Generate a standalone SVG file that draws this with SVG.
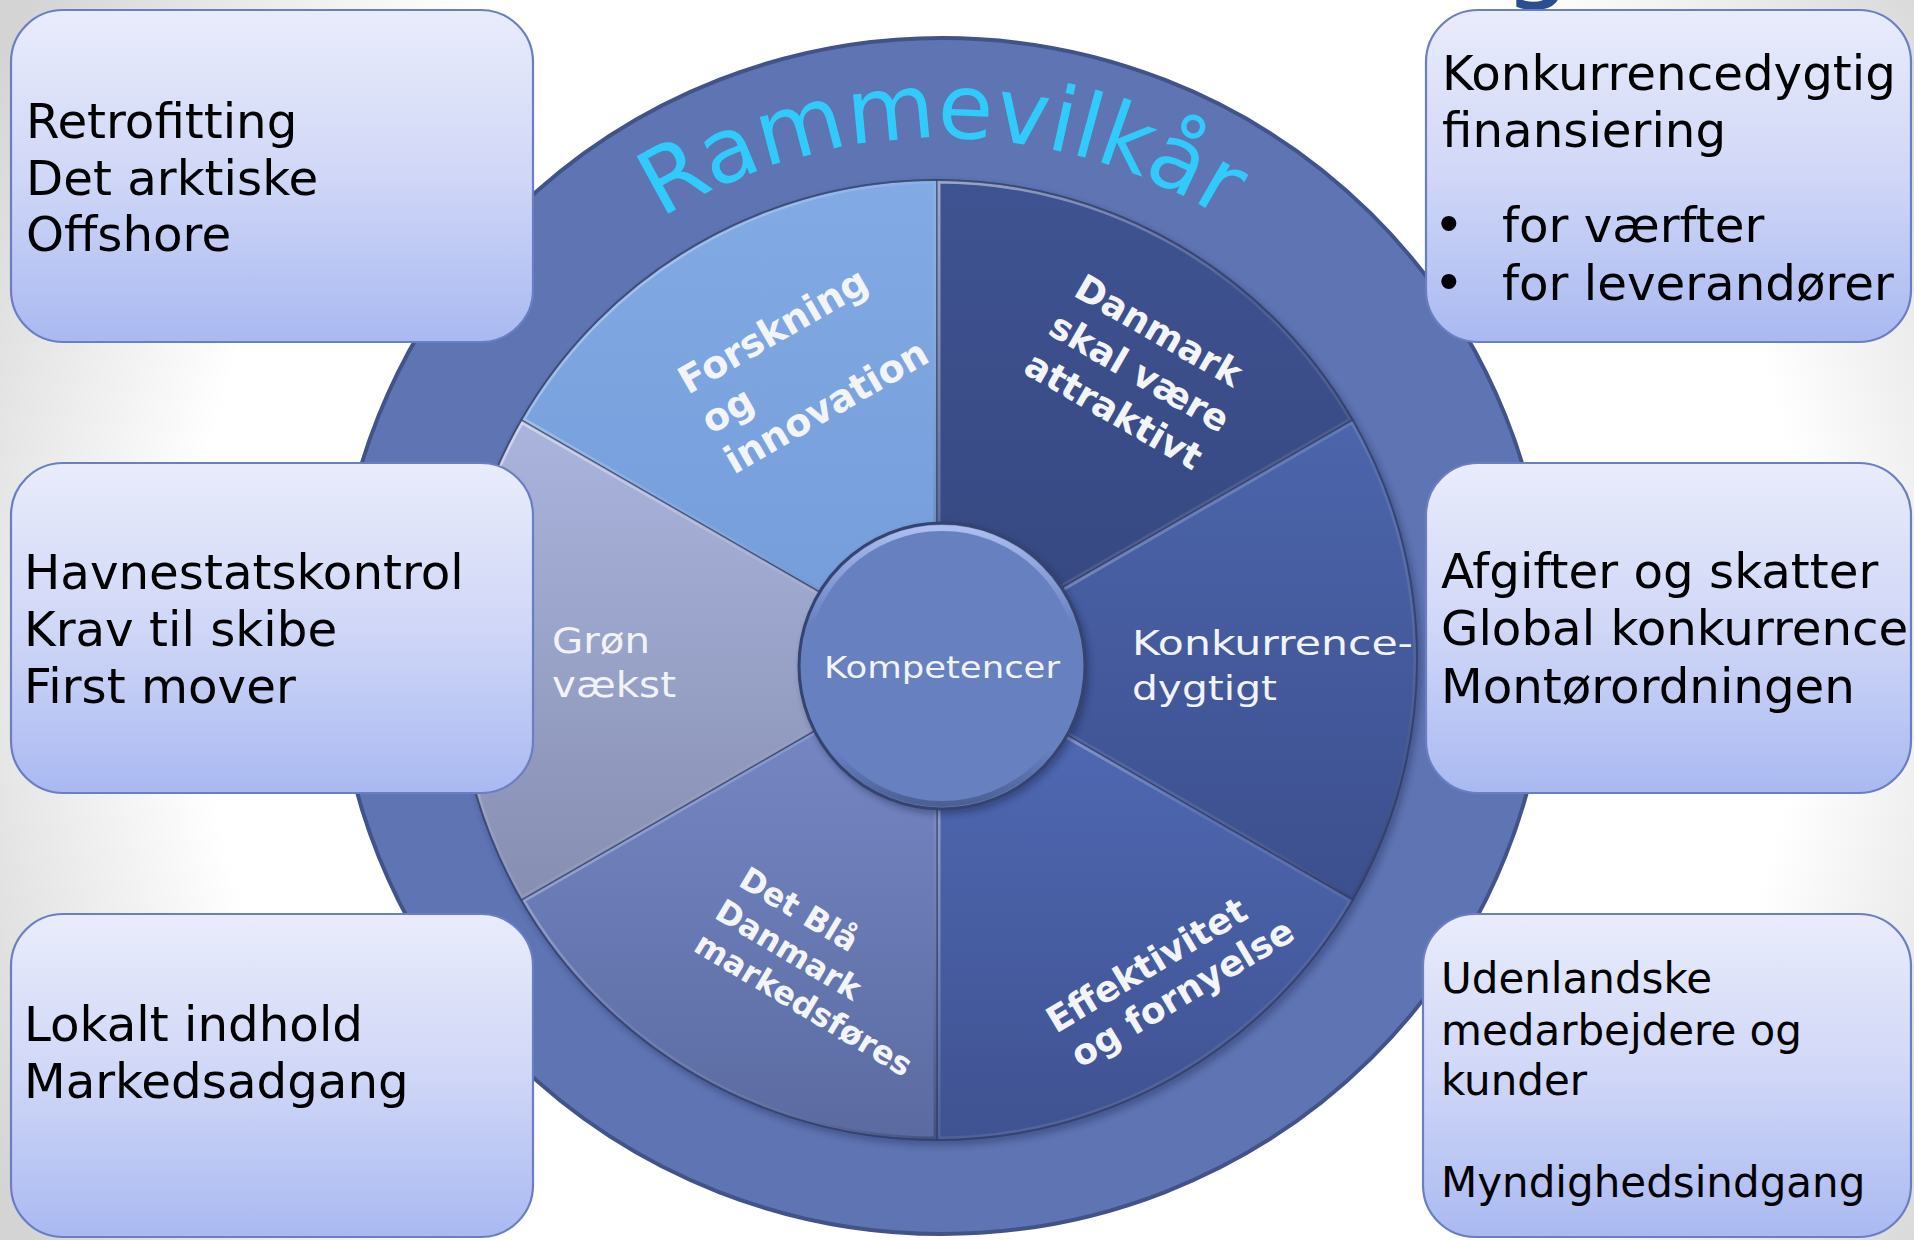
<svg xmlns="http://www.w3.org/2000/svg" xmlns:xlink="http://www.w3.org/1999/xlink" width="1914" height="1240" viewBox="0 0 1914 1240">
  <defs>
    <style>
      .box { fill: url(#boxGrad); stroke: #6a7fc3; stroke-width: 2.2; }
      .btxt { font-family: "DejaVu Sans", Verdana, sans-serif; font-size: 48.3px; fill: #000; }
      .btxt2 { font-family: "DejaVu Sans", Verdana, sans-serif; font-size: 42px; fill: #000; }
      .bul { font-family: "Liberation Sans", Arial, sans-serif; font-size: 56px; }
      .wlab { font-family: "DejaVu Sans", Verdana, sans-serif; fill: #f2f3f7; }
      .blab { font-family: "DejaVu Sans", Verdana, sans-serif; font-weight: bold; fill: #f3f4f8; }
      .edge { fill: none; stroke: #27335f; stroke-opacity: 0.55; stroke-width: 1.5; }
      .hi { fill: none; stroke: url(#bevel); stroke-width: 7; }
    </style>
    <radialGradient id="bg" gradientUnits="userSpaceOnUse" cx="1000" cy="620" r="1150">
      <stop offset="0" stop-color="#ffffff"/>
      <stop offset="0.7" stop-color="#ffffff"/>
      <stop offset="1" stop-color="#d4d4d4"/>
    </radialGradient>
    <linearGradient id="boxGrad" x1="0" y1="0" x2="0" y2="1">
      <stop offset="0" stop-color="#e9ecfb"/>
      <stop offset="0.5" stop-color="#d0d7f7"/>
      <stop offset="1" stop-color="#a9b9f1"/>
    </linearGradient>
    <linearGradient id="bevel" x1="0" y1="0" x2="1" y2="1">
      <stop offset="0" stop-color="#ffffff" stop-opacity="0.5"/>
      <stop offset="0.5" stop-color="#ffffff" stop-opacity="0.08"/>
      <stop offset="1" stop-color="#141c40" stop-opacity="0.35"/>
    </linearGradient>
    <linearGradient id="gF" gradientUnits="userSpaceOnUse" x1="0" y1="180" x2="0" y2="660">
      <stop offset="0" stop-color="#82aae4"/><stop offset="1" stop-color="#739cd9"/>
    </linearGradient>
    <linearGradient id="gD" gradientUnits="userSpaceOnUse" x1="0" y1="180" x2="0" y2="660">
      <stop offset="0" stop-color="#3f5392"/><stop offset="1" stop-color="#36477f"/>
    </linearGradient>
    <linearGradient id="gK" gradientUnits="userSpaceOnUse" x1="0" y1="420" x2="0" y2="900">
      <stop offset="0" stop-color="#4c65ab"/><stop offset="1" stop-color="#3c4f8e"/>
    </linearGradient>
    <linearGradient id="gE" gradientUnits="userSpaceOnUse" x1="0" y1="660" x2="0" y2="1140">
      <stop offset="0" stop-color="#526cb8"/><stop offset="1" stop-color="#3f5291"/>
    </linearGradient>
    <linearGradient id="gB" gradientUnits="userSpaceOnUse" x1="0" y1="660" x2="0" y2="1140">
      <stop offset="0" stop-color="#798ac9"/><stop offset="1" stop-color="#5b6ba1"/>
    </linearGradient>
    <linearGradient id="gG" gradientUnits="userSpaceOnUse" x1="0" y1="420" x2="0" y2="900">
      <stop offset="0" stop-color="#abb4dd"/><stop offset="1" stop-color="#868fb1"/>
    </linearGradient>
    <linearGradient id="chi" x1="0" y1="0" x2="0" y2="1">
      <stop offset="0" stop-color="#c4d2ff" stop-opacity="0.75"/>
      <stop offset="0.35" stop-color="#c4d2ff" stop-opacity="0"/>
      <stop offset="0.8" stop-color="#1a2348" stop-opacity="0"/>
      <stop offset="1" stop-color="#1a2348" stop-opacity="0.35"/>
    </linearGradient>
    <filter id="blur" x="-10%" y="-10%" width="120%" height="120%">
      <feGaussianBlur stdDeviation="3"/>
    </filter>
    <path id="sF" d="M937,660 L521.3,420 A480,480 0 0 1 937,180 Z"/>
    <path id="sD" d="M937,660 L937,180 A480,480 0 0 1 1352.7,420 Z"/>
    <path id="sK" d="M937,660 L1352.7,420 A480,480 0 0 1 1352.7,900 Z"/>
    <path id="sE" d="M937,660 L1352.7,900 A480,480 0 0 1 937,1140 Z"/>
    <path id="sB" d="M937,660 L937,1140 A480,480 0 0 1 521.3,900 Z"/>
    <path id="sG" d="M937,660 L521.3,900 A480,480 0 0 1 521.3,420 Z"/>
    <clipPath id="cF"><use xlink:href="#sF"/></clipPath>
    <clipPath id="cD"><use xlink:href="#sD"/></clipPath>
    <clipPath id="cK"><use xlink:href="#sK"/></clipPath>
    <clipPath id="cE"><use xlink:href="#sE"/></clipPath>
    <clipPath id="cB"><use xlink:href="#sB"/></clipPath>
    <clipPath id="cG"><use xlink:href="#sG"/></clipPath>
    <path id="arc" d="M483,403 A530,530 0 0 1 1401,403"/>
  </defs>

  <rect x="0" y="0" width="1914" height="1240" fill="url(#bg)"/>

  <text x="1503" y="-13" font-family="DejaVu Sans, sans-serif" font-size="110" fill="#2a4e8f">g</text>

  <g id="ring">
    <ellipse cx="942" cy="636" rx="606" ry="598" fill="#5f74b3" stroke="#42538a" stroke-width="4"/>
    <text font-family="DejaVu Sans, Verdana, sans-serif" font-size="90" fill="#30cbfb" text-anchor="middle"><textPath xlink:href="#arc" startOffset="50%">Rammevilkår</textPath></text>
  </g>

  <circle cx="940" cy="664" r="482" fill="#1e2850" opacity="0.35" filter="url(#blur)"/>

  <g id="sector-forskning">
    <use xlink:href="#sF" fill="url(#gF)"/>
    <use xlink:href="#sF" class="hi" clip-path="url(#cF)"/>
    <use xlink:href="#sF" class="edge"/>
    <g transform="translate(688,395) rotate(-30)" class="blab" font-size="38">
      <text x="0" y="0">Forskning</text>
      <text x="0" y="46">og</text>
      <text x="0" y="92">innovation</text>
    </g>
  </g>

  <g id="sector-danmark">
    <use xlink:href="#sD" fill="url(#gD)"/>
    <use xlink:href="#sD" class="hi" clip-path="url(#cD)"/>
    <use xlink:href="#sD" class="edge"/>
    <g transform="translate(1072,295) rotate(30)" class="blab" font-size="36.5">
      <text x="0" y="0">Danmark</text>
      <text x="-3" y="46">skal være</text>
      <text x="-5" y="92">attraktivt</text>
    </g>
  </g>

  <g id="sector-konkurrence">
    <use xlink:href="#sK" fill="url(#gK)"/>
    <use xlink:href="#sK" class="hi" clip-path="url(#cK)"/>
    <use xlink:href="#sK" class="edge"/>
    <text x="1132" y="655" class="wlab" font-size="34" textLength="281" lengthAdjust="spacingAndGlyphs">Konkurrence-</text>
    <text x="1132" y="700" class="wlab" font-size="34" textLength="145" lengthAdjust="spacingAndGlyphs">dygtigt</text>
  </g>

  <g id="sector-effektivitet">
    <use xlink:href="#sE" fill="url(#gE)"/>
    <use xlink:href="#sE" class="hi" clip-path="url(#cE)"/>
    <use xlink:href="#sE" class="edge"/>
    <g transform="translate(1056,1034) rotate(-31)" class="blab" font-size="36">
      <text x="0" y="0">Effektivitet</text>
      <text x="3" y="42">og fornyelse</text>
    </g>
  </g>

  <g id="sector-detblaa">
    <use xlink:href="#sB" fill="url(#gB)"/>
    <use xlink:href="#sB" class="hi" clip-path="url(#cB)"/>
    <use xlink:href="#sB" class="edge"/>
    <g transform="translate(737,885) rotate(31)" class="blab" font-size="32">
      <text x="0" y="0">Det Blå</text>
      <text x="-4" y="40">Danmark</text>
      <text x="-5" y="79">markedsføres</text>
    </g>
  </g>

  <g id="sector-groen">
    <use xlink:href="#sG" fill="url(#gG)"/>
    <use xlink:href="#sG" class="hi" clip-path="url(#cG)"/>
    <use xlink:href="#sG" class="edge"/>
    <text x="552" y="653" class="wlab" font-size="35" fill="#e8eaf1" textLength="98" lengthAdjust="spacingAndGlyphs">Grøn</text>
    <text x="552" y="697" class="wlab" font-size="35" fill="#e8eaf1" textLength="124" lengthAdjust="spacingAndGlyphs">vækst</text>
  </g>

  <circle cx="937" cy="660" r="480" fill="none" stroke="#30406f" stroke-opacity="0.6" stroke-width="2"/>

  <g id="center-kompetencer">
    <circle cx="945" cy="670" r="145" fill="#141c40" opacity="0.35" filter="url(#blur)"/>
    <circle cx="942" cy="666" r="143" fill="#6780bf" stroke="#35436f" stroke-width="3"/>
    <circle cx="942" cy="666" r="138" fill="none" stroke="url(#chi)" stroke-width="6"/>
    <text x="824" y="678" class="wlab" font-size="30" textLength="236" lengthAdjust="spacingAndGlyphs">Kompetencer</text>
  </g>

  <g id="connectors"></g>

  <g id="box-retrofitting">
    <rect class="box" x="11" y="10" width="522" height="332" rx="52" ry="52"/>
    <text class="btxt" x="26" y="138">Retrofitting</text>
    <text class="btxt" x="26" y="195">Det arktiske</text>
    <text class="btxt" x="26" y="251">Offshore</text>
  </g>

  <g id="box-havnestatskontrol">
    <rect class="box" x="11" y="463" width="522" height="330" rx="52" ry="52"/>
    <text class="btxt" x="24" y="589">Havnestatskontrol</text>
    <text class="btxt" x="24" y="646">Krav til skibe</text>
    <text class="btxt" x="24" y="703">First mover</text>
  </g>

  <g id="box-lokalt">
    <rect class="box" x="11" y="914" width="522" height="323" rx="52" ry="52"/>
    <text class="btxt" x="24" y="1041">Lokalt indhold</text>
    <text class="btxt" x="24" y="1098">Markedsadgang</text>
  </g>

  <g id="box-finansiering">
    <rect class="box" x="1426" y="10" width="485" height="332" rx="52" ry="52"/>
    <text class="btxt" x="1442" y="90">Konkurrencedygtig</text>
    <text class="btxt" x="1442" y="147">finansiering</text>
    <text class="btxt" y="242"><tspan class="bul" x="1439">•</tspan><tspan x="1502">for værfter</tspan></text>
    <text class="btxt" y="300"><tspan class="bul" x="1439">•</tspan><tspan x="1502">for leverandører</tspan></text>
  </g>

  <g id="box-afgifter">
    <rect class="box" x="1426" y="463" width="485" height="330" rx="52" ry="52"/>
    <text class="btxt" x="1441" y="588">Afgifter og skatter</text>
    <text class="btxt" x="1441" y="645">Global konkurrence</text>
    <text class="btxt" x="1441" y="703">Montørordningen</text>
  </g>

  <g id="box-udenlandske">
    <rect class="box" x="1423" y="914" width="488" height="323" rx="52" ry="52"/>
    <text class="btxt2" x="1441" y="993">Udenlandske</text>
    <text class="btxt2" x="1441" y="1045">medarbejdere og</text>
    <text class="btxt2" x="1441" y="1095">kunder</text>
    <text class="btxt2" x="1441" y="1197">Myndighedsindgang</text>
  </g>
</svg>
